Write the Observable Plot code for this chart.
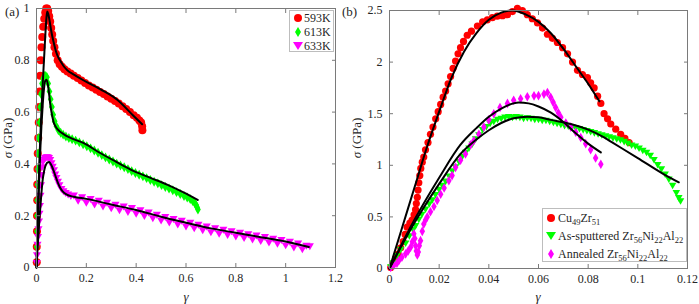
<!DOCTYPE html>
<html><head><meta charset="utf-8">
<script src="https://cdn.jsdelivr.net/npm/d3@7"></script>
<script src="https://cdn.jsdelivr.net/npm/@observablehq/plot@0.6"></script>
<style>
body{margin:0;background:#fff;}
#wrap{position:relative;width:699px;height:304px;font-family:"Liberation Serif","DejaVu Serif",serif;color:#262626;overflow:hidden;}
.pl{position:absolute;top:0;}
.t{position:absolute;white-space:nowrap;transform:translate(-50%,-50%);font-size:13px;line-height:1;}
.leg{position:absolute;background:#fff;border:1px solid #bdbdbd;font-size:12px;box-sizing:border-box;}
.row{position:absolute;left:0;white-space:nowrap;line-height:1;transform:translateY(-50%);}
.row svg{position:absolute;top:50%;transform:translateY(-50%);}
sub{font-size:8.5px;vertical-align:-3px;line-height:0;}
</style></head>
<body>
<div id="wrap">
  <div class="pl" id="pa" style="left:0"></div>
  <div class="pl" id="pb" style="left:345px"></div>
  <div class="t" style="left:5px;top:5px;transform:none">(a)</div>
  <div class="t" style="left:342px;top:5px;transform:none">(b)</div>
  <div class="t" style="left:7px;top:138px;transform:translate(-50%,-50%) rotate(-90deg)"><i>σ</i> (GPa)</div>
  <div class="t" style="left:356px;top:138px;transform:translate(-50%,-50%) rotate(-90deg)"><i>σ</i> (GPa)</div>
  <div class="t" style="left:186px;top:296px"><i>γ</i></div>
  <div class="t" style="left:538px;top:296px"><i>γ</i></div>
  <div class="leg" id="legA" style="left:289px;top:10px;width:45px;height:42px"></div>
  <div class="leg" id="legB" style="left:542px;top:208px;width:145px;height:54px"></div>
</div>
<script>
// ---------- panel (a) ----------
const xTicksA = [0, 0.2, 0.4, 0.6, 0.8, 1, 1.2];
const yTicksA = [0, 0.2, 0.4, 0.6, 0.8, 1];
const seriesA = ["593K", "613K", "633K"];

const gA593 = [0.001,0.001,0.002,0.002,0.003,0.003,0.004,0.005,0.007,0.009,0.011,0.013,0.015,0.017,0.020,0.023,0.027,0.031,0.035,0.039,0.043,0.047,0.051,0.055,0.059,0.063,0.067,0.072,0.078,0.085,0.093,0.102,0.112,0.124,0.137,0.150,0.165,0.180,0.195,0.210,0.225,0.240,0.255,0.270,0.285,0.300,0.315,0.330,0.345,0.360,0.375,0.390,0.403,0.413,0.420,0.424,0.425];
const sA593 = [0.02,0.08,0.14,0.20,0.26,0.32,0.38,0.44,0.50,0.56,0.62,0.68,0.74,0.80,0.85,0.89,0.93,0.96,0.985,1.0,1.0,0.99,0.97,0.95,0.925,0.90,0.875,0.85,0.825,0.80,0.785,0.775,0.765,0.757,0.749,0.74,0.732,0.722,0.712,0.703,0.695,0.686,0.678,0.67,0.66,0.652,0.643,0.633,0.623,0.612,0.60,0.588,0.578,0.568,0.56,0.545,0.53];

const gA613 = [0.001,0.001,0.002,0.002,0.003,0.004,0.005,0.007,0.009,0.012,0.015,0.018,0.022,0.027,0.032,0.037,0.042,0.047,0.052,0.057,0.062,0.067,0.073,0.080,0.088,0.097,0.107,0.118,0.130,0.143,0.157,0.172,0.187,0.202,0.217,0.232,0.247,0.262,0.277,0.292,0.307,0.322,0.337,0.352,0.367,0.382,0.397,0.412,0.427,0.442,0.457,0.472,0.487,0.502,0.517,0.532,0.547,0.562,0.577,0.592,0.605,0.617,0.627,0.635,0.641,0.645,0.648];
const sA613 = [0.02,0.08,0.14,0.20,0.26,0.32,0.38,0.44,0.50,0.56,0.62,0.67,0.71,0.73,0.74,0.74,0.735,0.71,0.68,0.65,0.62,0.59,0.565,0.545,0.53,0.52,0.513,0.506,0.50,0.495,0.49,0.483,0.476,0.468,0.46,0.452,0.443,0.434,0.425,0.417,0.409,0.401,0.394,0.387,0.38,0.372,0.365,0.358,0.352,0.345,0.338,0.331,0.325,0.318,0.311,0.305,0.298,0.291,0.284,0.276,0.27,0.264,0.257,0.249,0.241,0.232,0.224];

const gA633 = [0.001,0.002,0.004,0.006,0.008,0.010,0.012,0.014,0.016,0.018,0.020,0.022,0.025,0.030,0.035,0.040,0.045,0.050,0.055,0.060,0.065,0.070,0.075,0.080,0.086,0.092,0.100,0.108,0.117,0.127,0.138,
  0.150,0.167,0.183,0.200,0.217,0.233,0.250,0.267,0.283,0.300,0.317,0.333,0.350,0.367,0.383,0.400,0.417,0.433,0.450,0.467,0.483,0.500,0.517,0.533,0.550,0.567,0.583,0.600,0.617,0.633,0.650,0.667,0.683,0.700,0.717,0.733,0.750,0.767,0.783,0.800,0.817,0.833,0.850,0.867,0.883,0.900,0.917,0.933,0.950,0.967,0.983,1.000,1.017,1.033,1.050,1.067,1.083,1.097];
const sA633 = [0.02,0.05,0.09,0.12,0.15,0.18,0.21,0.24,0.28,0.32,0.36,0.39,0.41,0.42,0.425,0.428,0.428,0.425,0.418,0.405,0.392,0.378,0.362,0.348,0.334,0.32,0.306,0.297,0.29,0.284,0.279,
  0.281,0.260,0.274,0.253,0.267,0.246,0.260,0.238,0.253,0.231,0.245,0.224,0.238,0.217,0.232,0.210,0.224,0.201,0.215,0.193,0.206,0.184,0.198,0.176,0.190,0.169,0.183,0.161,0.175,0.154,0.168,0.146,0.161,0.139,0.154,0.133,0.148,0.128,0.143,0.122,0.137,0.116,0.131,0.111,0.126,0.105,0.120,0.099,0.114,0.094,0.109,0.088,0.102,0.080,0.095,0.073,0.087,0.085];

const fgA593 = [0,0.004,0.008,0.012,0.016,0.02,0.025,0.03,0.035,0.04,0.043,0.047,0.052,0.058,0.064,0.07,0.078,0.087,0.096,0.11,0.123,0.15,0.19,0.257,0.324,0.39,0.424];
const fsA593 = [0,0.16,0.3,0.42,0.52,0.61,0.71,0.8,0.89,0.965,0.988,0.98,0.955,0.92,0.89,0.865,0.835,0.812,0.797,0.776,0.762,0.745,0.722,0.688,0.648,0.585,0.553];
const fgA613 = [0,0.004,0.008,0.012,0.016,0.02,0.025,0.03,0.035,0.04,0.045,0.05,0.055,0.062,0.069,0.076,0.083,0.095,0.107,0.13,0.19,0.25,0.32,0.391,0.46,0.524,0.59,0.647];
const fsA613 = [0,0.13,0.26,0.37,0.47,0.55,0.63,0.69,0.72,0.725,0.71,0.675,0.632,0.59,0.56,0.545,0.535,0.524,0.516,0.503,0.48,0.445,0.408,0.372,0.345,0.32,0.29,0.261];
const fgA633 = [0,0.004,0.008,0.012,0.016,0.02,0.025,0.03,0.035,0.04,0.045,0.051,0.057,0.063,0.07,0.078,0.086,0.095,0.105,0.12,0.15,0.2,0.3,0.4,0.5,0.6,0.7,0.8,0.9,1.0,1.093];
const fsA633 = [0,0.07,0.13,0.19,0.24,0.29,0.34,0.37,0.39,0.401,0.406,0.407,0.4,0.388,0.37,0.348,0.327,0.308,0.294,0.282,0.273,0.265,0.243,0.222,0.196,0.173,0.151,0.134,0.117,0.1,0.079];

// ---------- panel (b) ----------
const xTicksB = [0, 0.02, 0.04, 0.06, 0.08, 0.1, 0.12];
const yTicksB = [0, 0.5, 1, 1.5, 2, 2.5];
const seriesB = ["Cu<sub>49</sub>Zr<sub>51</sub>", "As-sputtered Zr<sub>56</sub>Ni<sub>22</sub>Al<sub>22</sub>", "Annealed Zr<sub>56</sub>Ni<sub>22</sub>Al<sub>22</sub>"];

const gBCu = [0.0005,0.0015,0.0025,0.0035,0.0045,0.0055,0.0063,0.0071,0.0082,0.0091,0.0099,0.0105,0.0108,0.0112,0.0115,0.0118,0.0122,0.0126,0.0132,0.0138,0.0145,0.0155,0.0165,0.0175,0.0186,0.0196,0.0206,0.0216,0.0226,0.0236,0.0246,0.0256,0.0266,0.0276,0.0286,0.0298,0.0313,0.033,0.0354,0.0375,0.0394,0.0414,0.0434,0.0455,0.0475,0.0495,0.0515,0.0535,0.0555,0.0575,0.0596,0.0616,0.0636,0.0656,0.0676,0.0697,0.0717,0.0737,0.0757,0.0777,0.0797,0.081,0.0824,0.0838,0.0851,0.0864,0.0878,0.0891,0.0911,0.0931,0.0948,0.0965];
const sBCu = [0.01,0.05,0.10,0.14,0.20,0.26,0.33,0.40,0.44,0.47,0.52,0.57,0.63,0.69,0.76,0.83,0.90,0.97,1.03,1.08,1.15,1.22,1.30,1.37,1.45,1.52,1.59,1.66,1.72,1.79,1.86,1.94,2.01,2.08,2.14,2.20,2.26,2.30,2.35,2.39,2.41,2.43,2.445,2.45,2.46,2.49,2.52,2.50,2.46,2.42,2.38,2.33,2.27,2.23,2.19,2.14,2.08,2.00,1.92,1.88,1.85,1.80,1.75,1.67,1.60,1.50,1.45,1.40,1.35,1.30,1.26,1.22];

const gBAs = [0.0005,0.0015,0.003,0.0045,0.0065,0.008,0.0095,0.0105,0.0118,0.013,0.0145,0.016,0.0172,0.0185,0.02,0.0213,0.0226,0.024,0.0253,0.0266,0.028,0.0293,0.0306,0.032,0.0333,0.0347,0.036,0.0375,0.039,0.0405,0.042,0.0435,0.045,0.0465,0.048,0.0495,0.051,0.0525,0.054,0.0555,0.057,0.0585,0.06,0.0615,0.063,0.0645,0.066,0.0675,0.069,0.0705,0.072,0.0735,0.075,0.0765,0.078,0.0795,0.081,0.0825,0.084,0.0855,0.087,0.0885,0.09,0.0915,0.093,0.0945,0.096,0.0975,0.099,0.1005,0.102,0.1035,0.105,0.1065,0.108,0.1095,0.111,0.1125,0.114,0.1155,0.1165,0.1172];
const sBAs = [0.02,0.06,0.13,0.19,0.25,0.32,0.38,0.42,0.48,0.53,0.58,0.63,0.67,0.72,0.77,0.81,0.85,0.90,0.95,0.99,1.04,1.09,1.13,1.17,1.21,1.26,1.30,1.35,1.38,1.41,1.43,1.45,1.46,1.47,1.475,1.47,1.475,1.47,1.46,1.465,1.46,1.45,1.45,1.44,1.44,1.43,1.42,1.41,1.40,1.39,1.385,1.375,1.37,1.36,1.35,1.34,1.33,1.32,1.31,1.30,1.29,1.28,1.27,1.26,1.25,1.235,1.22,1.20,1.19,1.17,1.15,1.13,1.10,1.06,1.01,0.97,0.92,0.87,0.81,0.74,0.69,0.66];

const gBAn = [0.0005,0.0017,0.003,0.0038,0.005,0.0065,0.0075,0.0085,0.0092,0.0098,0.0102,0.0105,0.0108,0.0112,0.0116,0.012,0.0125,0.0132,0.0138,0.0145,0.0152,0.0165,0.0179,0.0192,0.0206,0.022,0.0239,0.0252,0.0266,0.0286,0.0306,0.0327,0.034,0.036,0.038,0.04,0.042,0.0445,0.0475,0.05,0.0528,0.0555,0.0582,0.06,0.0622,0.0636,0.0649,0.0659,0.0669,0.068,0.069,0.071,0.073,0.075,0.077,0.079,0.081,0.083,0.0851];
const sBAn = [0.01,0.03,0.05,0.077,0.11,0.142,0.17,0.206,0.26,0.336,0.29,0.22,0.17,0.13,0.16,0.22,0.27,0.36,0.43,0.47,0.50,0.55,0.60,0.66,0.72,0.78,0.85,0.90,0.98,1.05,1.11,1.20,1.24,1.30,1.37,1.44,1.50,1.56,1.60,1.63,1.645,1.665,1.673,1.675,1.69,1.705,1.66,1.61,1.56,1.51,1.465,1.41,1.37,1.32,1.27,1.21,1.15,1.07,1.01];

const fgBCu = [0,0.005,0.01,0.015,0.02,0.025,0.03,0.035,0.04,0.045,0.0495,0.055,0.06,0.065,0.07,0.075,0.08,0.0845];
const fsBCu = [0,0.39,0.78,1.17,1.52,1.85,2.1,2.28,2.41,2.48,2.5,2.46,2.39,2.28,2.13,1.96,1.79,1.62];
const fgBAs = [0,0.01,0.02,0.0286,0.035,0.04,0.045,0.05,0.0555,0.06,0.065,0.073,0.08,0.0864,0.09,0.1,0.11,0.1165];
const fsBAs = [0,0.44,0.82,1.11,1.25,1.34,1.41,1.455,1.47,1.465,1.44,1.4,1.345,1.27,1.217,1.07,0.92,0.835];
const fgBAn = [0,0.01,0.02,0.0286,0.035,0.04,0.045,0.0521,0.056,0.06,0.065,0.07,0.075,0.08,0.0851];
const fsBAn = [0,0.47,0.88,1.2,1.36,1.47,1.55,1.608,1.60,1.57,1.51,1.42,1.31,1.21,1.125];

// ---------- helpers ----------
const zip = (g, s) => g.map((v, i) => ({x: v, y: s[i]}));
const triDown = {draw(ctx, size) {
  const s = Math.sqrt(size * 4 / Math.sqrt(3)), h = s * Math.sqrt(3) / 2;
  ctx.moveTo(-s / 2, -h / 3); ctx.lineTo(s / 2, -h / 3); ctx.lineTo(0, 2 * h / 3); ctx.closePath();
}};
const RED = "#ff0000", GREEN = "#00ff00", MAG = "#ff00ff";
const axisCol = "#7a7a7a";
const fmt = d => String(d);

function axes(xt, yt) {
  return [
    Plot.frame({stroke: axisCol}),
    Plot.axisX(xt, {anchor: "bottom", tickSize: -4, tickPadding: 10, tickFormat: fmt, label: null, stroke: axisCol, fill: "#262626"}),
    Plot.axisX(xt, {anchor: "top", tickSize: -4, tickFormat: () => "", label: null, stroke: axisCol}),
    Plot.axisY(yt, {anchor: "left", tickSize: -4, tickPadding: 11, tickFormat: fmt, label: null, stroke: axisCol, fill: "#262626"}),
    Plot.axisY(yt, {anchor: "right", tickSize: -4, tickFormat: () => "", label: null, stroke: axisCol})
  ];
}
const style = {fontFamily: '"Liberation Serif","DejaVu Serif",serif', fontSize: "12px", color: "#262626", background: "transparent", overflow: "visible"};
const fitLine = (g, s) => Plot.line(zip(g, s), {x: "x", y: "y", stroke: "black", strokeWidth: 2, curve: "monotone-x"});

const plotA = Plot.plot({
  width: 345, height: 304, marginLeft: 36, marginRight: 10, marginTop: 8, marginBottom: 37,
  x: {domain: [0, 1.2]}, y: {domain: [0, 1]}, style,
  marks: [
    Plot.dot(zip(gA593, sA593), {x: "x", y: "y", symbol: "circle", r: 4, fill: RED}),
    Plot.dot(zip(gA613, sA613), {x: "x", y: "y", symbol: "diamond", r: 3, fill: GREEN}),
    Plot.dot(zip(gA633, sA633), {x: "x", y: "y", symbol: triDown, r: 3, fill: MAG}),
    fitLine(fgA593, fsA593), fitLine(fgA613, fsA613), fitLine(fgA633, fsA633),
    ...axes(xTicksA, yTicksA)
  ]
});
document.getElementById("pa").appendChild(plotA);

const plotB = Plot.plot({
  width: 354, height: 304, marginLeft: 44, marginRight: 12, marginTop: 10, marginBottom: 36,
  x: {domain: [0, 0.12]}, y: {domain: [0, 2.5]}, style,
  marks: [
    Plot.dot(zip(gBCu, sBCu), {x: "x", y: "y", symbol: "circle", r: 3.6, fill: RED}),
    Plot.dot(zip(gBAs, sBAs), {x: "x", y: "y", symbol: triDown, r: 2.8, fill: GREEN}),
    Plot.dot(zip(gBAn, sBAn), {x: "x", y: "y", symbol: "diamond", r: 2.9, fill: MAG}),
    fitLine(fgBCu, fsBCu), fitLine(fgBAs, fsBAs), fitLine(fgBAn, fsBAn),
    ...axes(xTicksB, yTicksB)
  ]
});
document.getElementById("pb").appendChild(plotB);

// ---------- legends ----------
const mk = {
  circle: c => `<svg width="10" height="10" style="left:3px"><circle cx="5" cy="5" r="4" fill="${c}"/></svg>`,
  diamond: c => `<svg width="10" height="12" style="left:3px"><path d="M5 1L8 6L5 11L2 6Z" fill="${c}"/></svg>`,
  tri: c => `<svg width="12" height="10" style="left:2px"><path d="M1 1L11 1L6 9Z" fill="${c}"/></svg>`
};
const legA = document.getElementById("legA");
[[mk.circle(RED), 7], [mk.diamond(GREEN), 21], [mk.tri(MAG), 35]].forEach(([m, y], i) => {
  legA.insertAdjacentHTML("beforeend", `<div class="row" style="top:${y}px;width:100%">${m}<span style="position:absolute;left:14px;top:0;transform:translateY(-50%)">${seriesA[i]}</span></div>`);
});
const legB = document.getElementById("legB");
[[mk.circle(RED), 9], [mk.tri(GREEN), 27], [mk.diamond(MAG), 45]].forEach(([m, y], i) => {
  legB.insertAdjacentHTML("beforeend", `<div class="row" style="top:${y}px;width:100%">${m}<span style="position:absolute;left:15px;top:0;transform:translateY(-50%)">${seriesB[i]}</span></div>`);
});
</script>
</body></html>
